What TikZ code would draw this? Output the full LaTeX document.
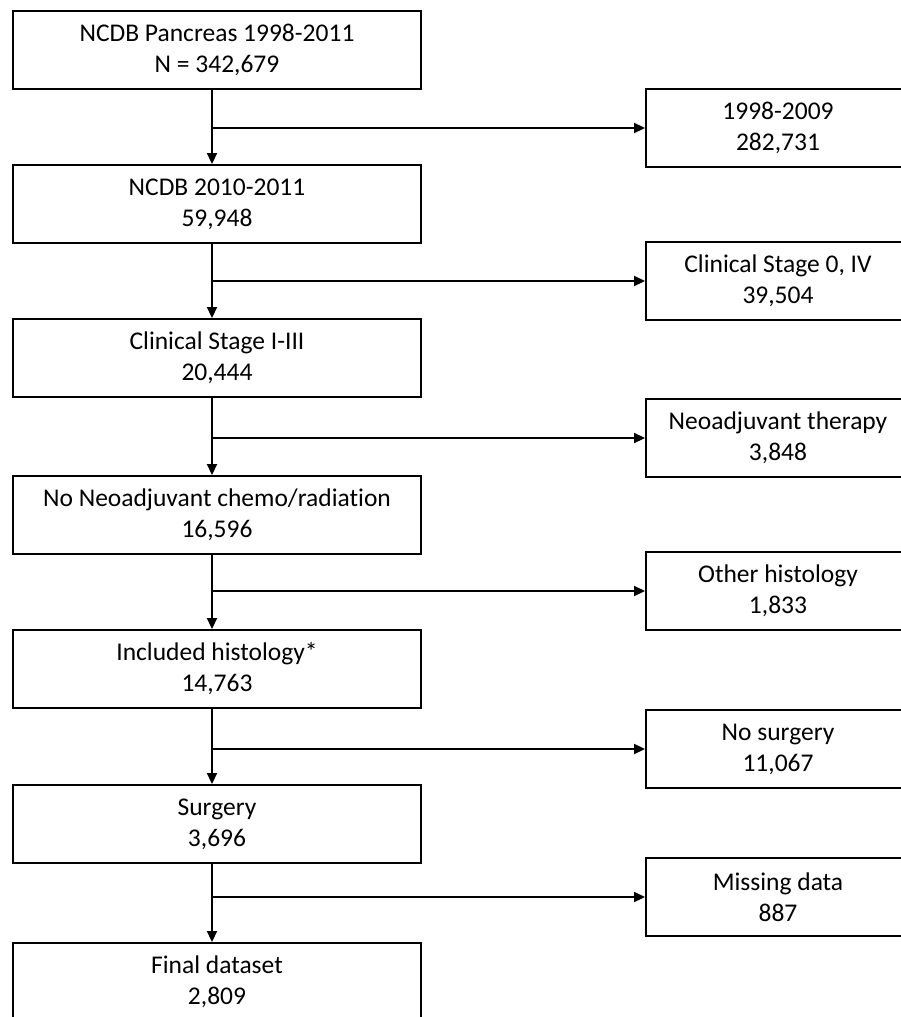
\documentclass[tikz,border=0pt]{standalone}
\usepackage{fontspec}
\setmainfont{Carlito}[Ligatures=NoCommon]
\usetikzlibrary{arrows.meta}
\tikzset{
  box/.style={draw=black, line width=1.9pt, align=center, inner sep=0pt,
    minimum height=78pt, font=\fontsize{25.5}{31}\selectfont},
  leftbox/.style={box, minimum width=408pt},
  rightbox/.style={box, minimum width=264pt},
  flow/.style={line width=1.8pt, -{Triangle[length=11pt,width=10pt]}}
}
\begin{document}
\begin{tikzpicture}[x=1pt,y=-1pt]
\useasboundingbox (0,0) rectangle (901,1017);
\clip (0,0) rectangle (901,1017);
% left column
\node[leftbox] (b1) at (217,50)  {NCDB Pancreas 1998-2011\\N = 342,679};
\node[leftbox] (b2) at (217,204) {NCDB 2010-2011\\59,948};
\node[leftbox] (b3) at (217,358) {Clinical Stage I-III\\20,444};
\node[leftbox] (b4) at (217,515) {No Neoadjuvant chemo/radiation\\16,596};
\node[leftbox] (b5) at (217,669) {Included histology*\\14,763};
\node[leftbox] (b6) at (217,824) {Surgery\\3,696};
\node[leftbox] (b7) at (217,982) {Final dataset\\2,809};
% right column
\node[rightbox] (r1) at (778,128) {1998-2009\\282,731};
\node[rightbox] (r2) at (778,281) {Clinical Stage 0, IV\\39,504};
\node[rightbox] (r3) at (778,438) {Neoadjuvant therapy\\3,848};
\node[rightbox] (r4) at (778,591) {Other histology\\1,833};
\node[rightbox] (r5) at (778,749) {No surgery\\11,067};
\node[rightbox] (r6) at (778,897) {Missing data\\887};
% connectors
\foreach \a/\b/\r in {b1/b2/r1, b2/b3/r2, b3/b4/r3, b4/b5/r4, b5/b6/r5, b6/b7/r6}{
  \draw[flow] ([xshift=-5pt,yshift=2pt]\a.south) -- ([xshift=-5pt]\b.north);
  \draw[flow] ([xshift=-5pt]\a.south |- \r.west) -- (\r.west);
}
\end{tikzpicture}
\end{document}
